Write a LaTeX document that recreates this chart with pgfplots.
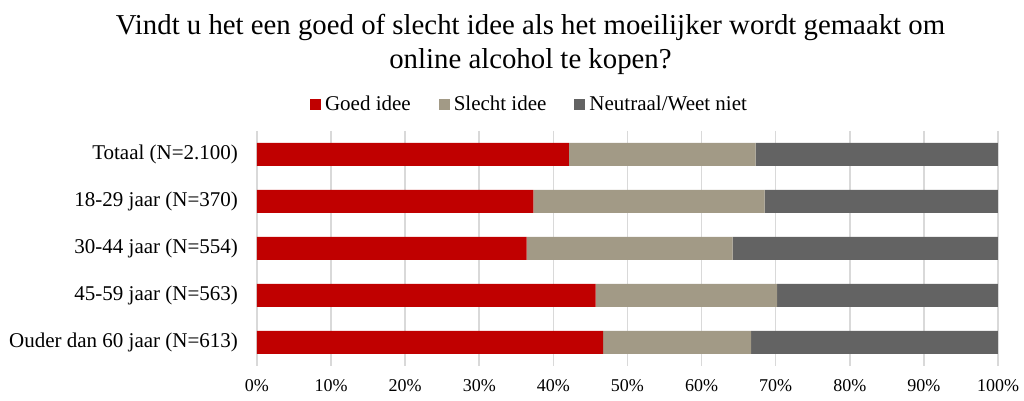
\documentclass[border=0pt]{standalone}
\usepackage{fontspec}
\setmainfont{Liberation Serif}
\usepackage{pgfplots}
\pgfplotsset{compat=1.18}
\definecolor{goed}{HTML}{C00000}
\definecolor{slecht}{HTML}{A29A86}
\definecolor{neutraal}{HTML}{636363}
\definecolor{gridgray}{HTML}{D9D9D9}
\begin{document}
\begin{tikzpicture}
\begin{axis}[
  xbar stacked,
  scale only axis,
  width=370.5pt, height=117.5pt,
  xmin=0, xmax=100,
  ymin=-0.5, ymax=4.5,
  y dir=reverse,
  bar width=11.5pt,
  ytick={0,...,4},
  yticklabels={Totaal (N=2.100),18-29 jaar (N=370),30-44 jaar (N=554),45-59 jaar (N=563),Ouder dan 60 jaar (N=613)},
  xtick={0,10,...,100},
  xticklabels={0\%,10\%,20\%,30\%,40\%,50\%,60\%,70\%,80\%,90\%,100\%},
  xmajorgrids,
  major grid style={draw=gridgray, line width=0.8pt},
  axis line style={draw=none},
  tick style={draw=none},
  yticklabel style={font=\fontsize{10.5}{12}\selectfont, xshift=-6pt},
  xticklabel style={font=\fontsize{9}{10}\selectfont, yshift=-3pt},
  title={Vindt u het een goed of slecht idee als het moeilijker wordt gemaakt om\\[1pt]online alcohol te kopen?},
  title style={at={(rel axis cs:0.5,1)}, anchor=center, xshift=-48.5pt, yshift=37.5pt,
    align=center, font=\fontsize{14.4}{16}\selectfont},
  legend columns=3,
  legend style={at={(rel axis cs:0.5,1)}, anchor=center, xshift=-48.5pt, yshift=13pt,
    draw=none, font=\fontsize{10.5}{12}\selectfont,
    /tikz/every even column/.append style={column sep=12pt}},
  legend image code/.code={\fill[#1] (0pt,-2.75pt) rectangle (5.5pt,2.75pt);},
]
\addplot[fill=goed, draw=none] coordinates {(42.1,0) (37.3,1) (36.4,2) (45.7,3) (46.7,4)};
\addlegendentry{Goed idee}
\addplot[fill=slecht, draw=none] coordinates {(25.2,0) (31.2,1) (27.8,2) (24.5,3) (20.0,4)};
\addlegendentry{Slecht idee}
\addplot[fill=neutraal, draw=none] coordinates {(32.7,0) (31.5,1) (35.8,2) (29.8,3) (33.3,4)};
\addlegendentry{Neutraal/Weet niet}
\end{axis}
\pgfresetboundingbox
\path[use as bounding box] ([xshift=-128.5pt,yshift=-17.5pt]current axis.south west) rectangle ([xshift=13pt,yshift=65.5pt]current axis.north east);
\end{tikzpicture}
\end{document}
